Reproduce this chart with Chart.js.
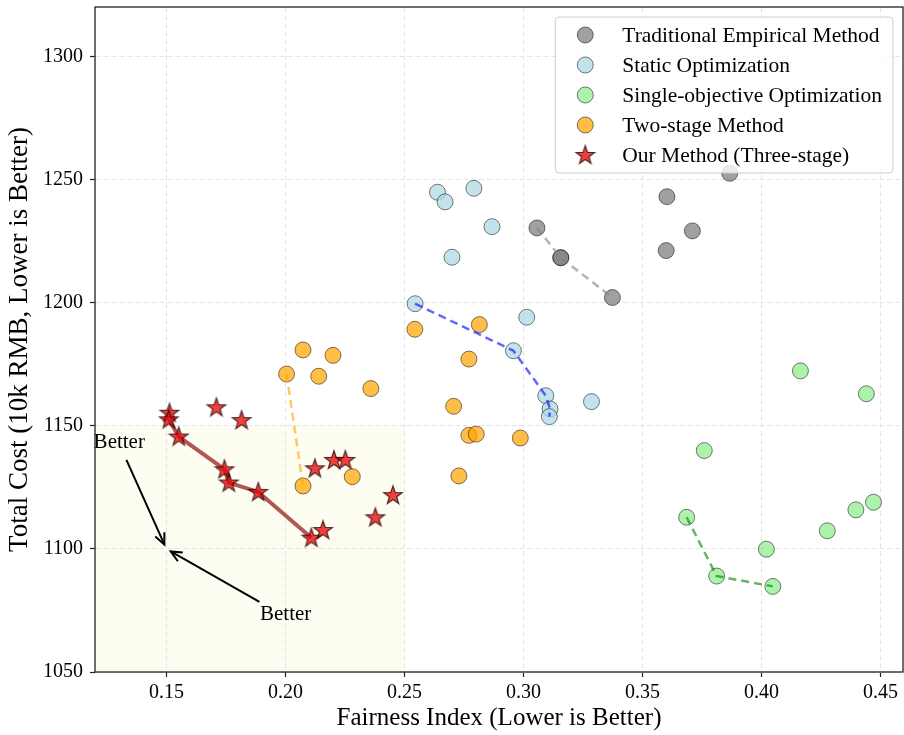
<!DOCTYPE html>
<html><head><meta charset="utf-8">
<script src="https://cdn.jsdelivr.net/npm/chart.js@4.4.0/dist/chart.umd.min.js"></script>
<style>html,body{margin:0;padding:0;background:#fff;}canvas{display:block;}</style>
</head><body>
<canvas id="c" width="904" height="735"></canvas>
<script>
// ---------------- data ----------------
const xTicks = [0.15, 0.20, 0.25, 0.30, 0.35, 0.40, 0.45];
const yTicks = [1050, 1100, 1150, 1200, 1250, 1300];
const seriesNames = ['Traditional Empirical Method', 'Static Optimization', 'Single-objective Optimization', 'Two-stage Method', 'Our Method (Three-stage)'];

const traditional = [[0.3057,1230.5],[0.3157,1218.4],[0.3157,1218.4],[0.3374,1202.2],[0.3603,1243.2],[0.3710,1229.3],[0.3600,1221.3],[0.3867,1252.7]];
const staticOpt = [[0.2639,1245.0],[0.2671,1241.1],[0.2792,1246.6],[0.2868,1231.0],[0.2700,1218.6],[0.2545,1199.7],[0.3014,1194.2],[0.2958,1180.6],[0.3094,1162.3],[0.3112,1156.9],[0.3109,1153.8],[0.3286,1159.9]];
const singleObj = [[0.4164,1172.4],[0.4441,1163.1],[0.3760,1140.0],[0.3686,1112.9],[0.3812,1089.0],[0.4048,1084.8],[0.4021,1099.9],[0.4277,1107.4],[0.4397,1115.9],[0.4471,1119.0]];
const twoStage = [[0.2074,1180.9],[0.2200,1178.7],[0.2005,1171.1],[0.2140,1170.2],[0.2359,1165.2],[0.2074,1125.6],[0.2281,1129.4],[0.2544,1189.3],[0.2815,1191.2],[0.2771,1177.2],[0.2707,1158.0],[0.2771,1146.2],[0.2802,1146.7],[0.2987,1145.1],[0.2729,1129.7]];
const ourMethod = [[0.1513,1155.4],[0.1510,1152.7],[0.1710,1157.6],[0.1816,1152.4],[0.1552,1145.7],[0.1744,1132.4],[0.1762,1127.0],[0.1886,1123.2],[0.2109,1104.6],[0.2158,1107.7],[0.2124,1132.8],[0.2204,1136.2],[0.2252,1136.2],[0.2378,1112.9],[0.2452,1121.9]];

// Pareto fronts (indices into series above)
const traditionalFront = [0, 1, 3];
const staticFront = [5, 7, 8, 9, 10];
const singleFront = [3, 4, 5];
const twoStageFront = [2, 5];
const ourFront = [1, 4, 5, 6, 7, 8];

// "Better" region and annotations (data coords)
const betterRegionX = [0.12, 0.25];
const betterRegionY = [1050, 1150];
const betterTarget = [0.15, 1100];
const betterTexts = [[0.1302, 1143.1], [0.2001, 1073.2]];
const betterTails = [[0.1332, 1136.2], [0.1891, 1078.5]];

// ---------------- helpers ----------------
const toPts = arr => arr.map(p => ({x: p[0], y: p[1]}));
const pick = (arr, idx) => idx.map(i => ({x: arr[i][0], y: arr[i][1]}));
const EDGE = 'rgba(0,0,0,0.5)';
const FONT = '"Liberation Serif", "Times New Roman", serif';

function makeStar(size, rOut, rIn) {
  const c = document.createElement('canvas');
  c.width = size; c.height = size;
  const g = c.getContext('2d');
  const cx = size / 2, cy = size / 2 + 0.5;
  g.beginPath();
  for (let i = 0; i < 10; i++) {
    const r = i % 2 === 0 ? rOut : rIn;
    const a = -Math.PI / 2 + i * Math.PI / 5;
    const x = cx + r * Math.cos(a), y = cy + r * Math.sin(a);
    if (i === 0) g.moveTo(x, y); else g.lineTo(x, y);
  }
  g.closePath();
  g.fillStyle = 'rgba(235,0,0,0.75)';
  g.fill();
  g.lineWidth = 1.2;
  g.strokeStyle = 'rgba(30,0,0,0.75)';
  g.lineJoin = 'miter';
  g.stroke();
  return c;
}
const starImg = makeStar(24, 9.8, 3.9);

const circleStyle = (color) => ({
  type: 'scatter', backgroundColor: color, borderColor: EDGE, borderWidth: 1,
  pointRadius: 8, pointHoverRadius: 8, pointStyle: 'circle'
});
const lineStyle = (color, dash, width) => ({
  type: 'line', showLine: true, borderColor: color, borderWidth: width, borderDash: dash,
  pointRadius: 0, pointHoverRadius: 0, fill: false, tension: 0
});

const colors = ['rgba(128,128,128,0.75)', 'rgba(173,216,230,0.75)', 'rgba(144,238,144,0.75)', 'rgba(255,165,0,0.72)'];

const datasets = [
  Object.assign({label: seriesNames[0], data: toPts(traditional), order: 9}, circleStyle(colors[0])),
  Object.assign({label: seriesNames[1], data: toPts(staticOpt), order: 8}, circleStyle(colors[1])),
  Object.assign({label: seriesNames[2], data: toPts(singleObj), order: 7}, circleStyle(colors[2])),
  Object.assign({label: seriesNames[3], data: toPts(twoStage), order: 6}, circleStyle(colors[3])),
  Object.assign({label: 'front-ours', data: pick(ourMethod, ourFront), order: 5}, lineStyle('rgba(139,0,0,0.65)', [], 4)),
  {label: seriesNames[4], type: 'scatter', data: toPts(ourMethod), pointStyle: starImg, pointRadius: 10, order: 4},
  Object.assign({label: 'front-trad', data: pick(traditional, traditionalFront), order: 3}, lineStyle('rgba(128,128,128,0.6)', [8, 5], 2.5)),
  Object.assign({label: 'front-static', data: pick(staticOpt, staticFront), order: 2}, lineStyle('rgba(0,0,255,0.6)', [8, 5], 2.5)),
  Object.assign({label: 'front-single', data: pick(singleObj, singleFront), order: 1}, lineStyle('rgba(0,128,0,0.6)', [8, 5], 2.5)),
  Object.assign({label: 'front-two', data: pick(twoStage, twoStageFront), order: 0}, lineStyle('rgba(255,165,0,0.6)', [8, 5], 2.5)),
];

// ---------------- plugins ----------------
const bgPlugin = {
  id: 'bg',
  beforeDraw(chart) {
    const {ctx, scales: {x, y}} = chart;
    ctx.save();
    ctx.fillStyle = '#fff';
    ctx.fillRect(0, 0, chart.width, chart.height);
    const x0 = x.getPixelForValue(betterRegionX[0]), x1 = x.getPixelForValue(betterRegionX[1]);
    const y0 = y.getPixelForValue(betterRegionY[1]), y1 = y.getPixelForValue(betterRegionY[0]);
    ctx.fillStyle = 'rgba(250,250,215,0.35)';
    ctx.fillRect(x0, y0, x1 - x0, y1 - y0);
    ctx.restore();
  }
};

function arrow(ctx, x0, y0, x1, y1) {
  const dx = x1 - x0, dy = y1 - y0, L = Math.hypot(dx, dy);
  const ux = dx / L, uy = dy / L;
  const ex = x1 - ux * 5, ey = y1 - uy * 5;
  ctx.beginPath();
  ctx.moveTo(x0, y0); ctx.lineTo(ex, ey); ctx.stroke();
  const hl = 11, hw = 5;
  ctx.beginPath();
  ctx.moveTo(ex - ux * hl - uy * hw, ey - uy * hl + ux * hw);
  ctx.lineTo(ex, ey);
  ctx.lineTo(ex - ux * hl + uy * hw, ey - uy * hl - ux * hw);
  ctx.stroke();
}

const overlayPlugin = {
  id: 'overlay',
  afterDatasetsDraw(chart) {
    const {ctx, chartArea: ca, scales: {x, y}} = chart;
    ctx.save();
    // annotations
    ctx.strokeStyle = '#000'; ctx.lineWidth = 2; ctx.lineCap = 'butt'; ctx.lineJoin = 'miter';
    const tx = x.getPixelForValue(betterTarget[0]), ty = y.getPixelForValue(betterTarget[1]);
    betterTails.forEach(t => arrow(ctx, x.getPixelForValue(t[0]), y.getPixelForValue(t[1]), tx, ty));
    ctx.fillStyle = '#000'; ctx.font = '21px ' + FONT; ctx.textAlign = 'center'; ctx.textBaseline = 'middle';
    betterTexts.forEach(t => ctx.fillText('Better', x.getPixelForValue(t[0]), y.getPixelForValue(t[1])));

    // legend
    ctx.font = '21.5px ' + FONT;
    const rowH = 30, padL = 30, textOff = 67, padR = 11;
    let maxW = 0;
    seriesNames.forEach(n => maxW = Math.max(maxW, ctx.measureText(n).width));
    const w = textOff + maxW + padR, h = rowH * 5 + 6;
    const bx = ca.right - 10 - w, by = ca.top + 10;
    ctx.beginPath();
    ctx.roundRect(bx, by, w, h, 4);
    ctx.fillStyle = 'rgba(255,255,255,0.8)';
    ctx.fill();
    ctx.strokeStyle = '#cccccc'; ctx.lineWidth = 1; ctx.stroke();
    seriesNames.forEach((n, i) => {
      const cy = by + 18 + i * rowH;
      const mx = bx + padL;
      if (i < 4) {
        ctx.beginPath(); ctx.arc(mx, cy, 8, 0, Math.PI * 2);
        ctx.fillStyle = colors[i]; ctx.fill();
        ctx.strokeStyle = EDGE; ctx.lineWidth = 1; ctx.stroke();
      } else {
        ctx.drawImage(starImg, mx - starImg.width / 2, cy - starImg.height / 2);
      }
      ctx.fillStyle = '#000'; ctx.textAlign = 'left'; ctx.textBaseline = 'middle';
      ctx.fillText(n, bx + textOff, cy + 1);
    });

    // frame
    ctx.strokeStyle = '#222'; ctx.lineWidth = 1.3;
    ctx.strokeRect(ca.left, ca.top, ca.right - ca.left, ca.bottom - ca.top);
    ctx.restore();
  }
};

const gridCommon = {color: '#e4e4e4', lineWidth: 1, tickColor: '#222', tickLength: 5, tickWidth: 1.2, tickBorderDash: []};

new Chart(document.getElementById('c'), {
  type: 'scatter',
  data: {datasets},
  options: {
    responsive: false, animation: false, devicePixelRatio: 1,
    layout: {autoPadding: false, padding: {top: 7, right: 1, left: 0, bottom: 0}},
    plugins: {legend: {display: false}, tooltip: {enabled: false}},
    scales: {
      x: {
        type: 'linear', min: 0.12, max: 0.4595,
        afterBuildTicks: s => { s.ticks = xTicks.map(v => ({value: v})); },
        afterFit: s => { s.height = 63; s.paddingLeft = 0; s.paddingRight = 0; s.paddingTop = 0; s.paddingBottom = 0; },
        ticks: {callback: v => Number(v).toFixed(2), font: {family: FONT, size: 20}, color: '#000', padding: 4, maxRotation: 0, autoSkip: false},
        grid: gridCommon,
        border: {display: false, dash: [5, 3]},
        title: {display: true, text: 'Fairness Index (Lower is Better)', font: {family: FONT, size: 25}, color: '#000', padding: {top: 0, bottom: 2}}
      },
      y: {
        type: 'linear', min: 1050, max: 1320.3,
        afterBuildTicks: s => { s.ticks = yTicks.map(v => ({value: v})); },
        afterFit: s => { s.width = 95; s.paddingLeft = 0; s.paddingRight = 0; s.paddingTop = 0; s.paddingBottom = 0; },
        ticks: {callback: v => String(v), font: {family: FONT, size: 20}, color: '#000', padding: 7, autoSkip: false},
        grid: gridCommon,
        border: {display: false, dash: [5, 3]},
        title: {display: true, text: 'Total Cost (10k RMB, Lower is Better)', font: {family: FONT, size: 27}, color: '#000', padding: {top: 4, bottom: 0}}
      }
    }
  },
  plugins: [bgPlugin, overlayPlugin]
});
</script>
</body></html>
